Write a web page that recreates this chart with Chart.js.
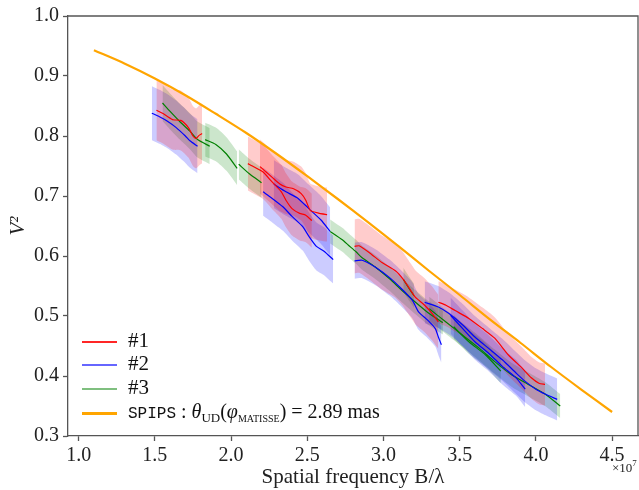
<!DOCTYPE html>
<html>
<head>
<meta charset="utf-8">
<script src="https://cdn.jsdelivr.net/npm/chart.js@4.4.0/dist/chart.umd.min.js"></script>
<style>
  html, body { margin: 0; padding: 0; background: #fff; }
  #wrap { position: relative; width: 639px; height: 490px; }
  .row { position: absolute; left: 82px; height: 24px; line-height: 24px; white-space: nowrap;
         font-family: "Liberation Serif", "DejaVu Serif", serif; font-size: 21px; color: #111; }
  .row .ln { display: inline-block; width: 35px; vertical-align: middle; margin-right: 11px; }
  .row .tt { font-family: "Liberation Mono", "DejaVu Sans Mono", monospace; font-size: 16px; }
  .row sub { font-size: 13px; vertical-align: -4px; }
  .row sub.s { font-size: 10px; }
  #expo { position: absolute; left: 612px; top: 458px; font-family: "Liberation Serif", serif;
          font-size: 13px; color: #222; }
  #expo sup { font-size: 9px; vertical-align: 6px; }
</style>
</head>
<body>
<div id="wrap">
  <canvas id="chart"></canvas>
  <div class="row" style="top:328px"><span class="ln" style="height:1.5px;background:rgba(255,0,0,0.85)"></span>#1</div>
  <div class="row" style="top:351px"><span class="ln" style="height:2px;background:rgba(0,0,255,0.6)"></span>#2</div>
  <div class="row" style="top:375px"><span class="ln" style="height:2px;background:rgba(0,128,0,0.5)"></span>#3</div>
  <div class="row" style="top:399px;font-size:20px"><span class="ln" style="height:2.5px;background:#ffa500"></span><span class="tt">SPIPS</span> : <i>θ</i><sub>UD</sub>(<i>φ</i><sub class="s">MATISSE</sub>) = 2.89 mas</div>
  <div id="expo">×10<sup>7</sup></div>
</div>
<script>
// x in units of 1e7 (spatial frequency), y = V^2

const xTicks = [1.0, 1.5, 2.0, 2.5, 3.0, 3.5, 4.0, 4.5];
const yTicks = [0.3, 0.4, 0.5, 0.6, 0.7, 0.8, 0.9, 1.0];

// #1 (red) segments
const redX = [
  [1.51, 1.55, 1.58, 1.62, 1.67, 1.72, 1.75, 1.77, 1.79, 1.81],
  [2.11, 2.14, 2.21, 2.26, 2.29, 2.33, 2.36, 2.40, 2.45, 2.49, 2.53],
  [2.19, 2.27, 2.32, 2.36, 2.41, 2.46, 2.49, 2.52, 2.58, 2.63],
  [2.81, 2.84, 2.91, 2.99, 3.08, 3.13, 3.18, 3.21, 3.27, 3.32, 3.36],
  [3.36, 3.41, 3.47, 3.56, 3.65, 3.73, 3.82, 3.91, 3.97, 4.02, 4.06]
];
const redY = [
  [0.843, 0.838, 0.833, 0.827, 0.826, 0.814, 0.800, 0.796, 0.801, 0.804],
  [0.754, 0.750, 0.740, 0.726, 0.718, 0.707, 0.693, 0.679, 0.671, 0.668, 0.659],
  [0.749, 0.731, 0.720, 0.715, 0.712, 0.704, 0.693, 0.676, 0.671, 0.669],
  [0.616, 0.617, 0.605, 0.589, 0.575, 0.561, 0.542, 0.531, 0.518, 0.504, 0.490],
  [0.523, 0.518, 0.509, 0.496, 0.479, 0.463, 0.435, 0.413, 0.397, 0.388, 0.386]
];
const redErr = [0.05, 0.045, 0.045, 0.045, 0.035];

// #2 (blue) segments
const blueX = [
  [1.48, 1.53, 1.58, 1.64, 1.70, 1.73, 1.78],
  [2.21, 2.27, 2.34, 2.40, 2.47, 2.51, 2.56, 2.61, 2.67],
  [2.28, 2.36, 2.44, 2.51, 2.59, 2.65],
  [2.81, 2.86, 2.95, 3.04, 3.12, 3.19, 3.23, 3.29, 3.34, 3.36, 3.38],
  [3.27, 3.36, 3.43, 3.52, 3.60, 3.69, 3.78, 3.87, 3.93, 4.00, 4.06, 4.14],
  [3.44, 3.52, 3.60, 3.69, 3.78, 3.87, 3.93]
];
const blueY = [
  [0.838, 0.832, 0.825, 0.814, 0.800, 0.792, 0.783],
  [0.707, 0.696, 0.682, 0.666, 0.649, 0.633, 0.616, 0.608, 0.594],
  [0.720, 0.707, 0.696, 0.679, 0.660, 0.641],
  [0.592, 0.593, 0.581, 0.564, 0.545, 0.526, 0.507, 0.493, 0.479, 0.465, 0.452],
  [0.523, 0.515, 0.504, 0.485, 0.465, 0.446, 0.427, 0.405, 0.391, 0.378, 0.370, 0.361],
  [0.501, 0.479, 0.457, 0.438, 0.416, 0.397, 0.378]
];
const blueErr = [0.045, 0.04, 0.04, 0.03, 0.035, 0.03];

// #3 (green) segments
const greenX = [
  [1.55, 1.60, 1.66, 1.73, 1.78, 1.86],
  [1.83, 1.90, 1.97, 2.04],
  [2.05, 2.12, 2.20],
  [2.65, 2.73, 2.77, 2.82, 2.86, 2.95, 3.04, 3.12, 3.21, 3.30, 3.39],
  [3.13, 3.17, 3.20],
  [3.30, 3.41, 3.52, 3.63, 3.73, 3.84, 3.95, 4.06, 4.16],
  [3.46, 3.56, 3.67, 3.77]
];
const greenY = [
  [0.855, 0.841, 0.825, 0.808, 0.794, 0.783],
  [0.794, 0.786, 0.770, 0.746],
  [0.753, 0.737, 0.722],
  [0.641, 0.627, 0.618, 0.607, 0.597, 0.581, 0.562, 0.543, 0.523, 0.504, 0.489],
  [0.561, 0.545, 0.534],
  [0.512, 0.490, 0.468, 0.446, 0.424, 0.402, 0.386, 0.370, 0.350],
  [0.482, 0.457, 0.435, 0.408]
];
const greenErr = [0.03, 0.028, 0.025, 0.02, 0.02, 0.02, 0.02];

// SPIPS uniform disk model
const spipsX = [1.1, 1.3, 1.5, 1.7, 1.9, 2.1, 2.3, 2.5, 2.7, 2.9, 3.1, 3.3, 3.5, 3.7, 3.9, 4.1, 4.3, 4.5];
const spipsY = [0.943, 0.921, 0.896, 0.868, 0.837, 0.805, 0.770, 0.733, 0.695, 0.656, 0.616, 0.575, 0.535, 0.494, 0.455, 0.415, 0.377, 0.340];

const datasets = [];

function addSeries(xs, ys, errs, lineColor, bandColor) {
  xs.forEach((seg, i) => {
    const mid = seg.map((x, j) => ({ x: x, y: ys[i][j] }));
    datasets.push({
      data: mid.map(p => ({ x: p.x, y: p.y + errs[i] })),
      borderColor: 'transparent', borderWidth: 0, pointRadius: 0, fill: false, tension: 0.2, order: 5
    });
    datasets.push({
      data: mid.map(p => ({ x: p.x, y: p.y - errs[i] })),
      borderColor: 'transparent', borderWidth: 0, pointRadius: 0, fill: '-1',
      backgroundColor: bandColor, tension: 0.2, order: 5
    });
    datasets.push({
      data: mid, borderColor: lineColor, borderWidth: 1.2, pointRadius: 0, fill: false, tension: 0.2, order: 1
    });
  });
}

addSeries(redX, redY, redErr, '#ff0000', 'rgba(255, 0, 0, 0.2)');
addSeries(blueX, blueY, blueErr, '#0000ff', 'rgba(0, 0, 255, 0.2)');
addSeries(greenX, greenY, greenErr, '#008000', 'rgba(0, 128, 0, 0.2)');

datasets.push({
  data: spipsX.map((x, i) => ({ x: x, y: spipsY[i] })),
  borderColor: '#ffa500', borderWidth: 2.2, pointRadius: 0, fill: false, tension: 0.3, order: 0
});

// top and right spines
const framePlugin = {
  id: 'frame',
  afterDraw(chart) {
    const { ctx, chartArea: a } = chart;
    ctx.save();
    ctx.strokeStyle = '#555';
    ctx.lineWidth = 1.3;
    ctx.beginPath();
    ctx.moveTo(a.left, a.top);
    ctx.lineTo(a.right, a.top);
    ctx.lineTo(a.right, a.bottom);
    ctx.stroke();
    ctx.restore();
  }
};

const tickFont = { family: 'Liberation Serif', size: 20 };

new Chart(document.getElementById('chart').getContext('2d'), {
  type: 'line',
  data: { datasets: datasets },
  options: {
    responsive: true,
    maintainAspectRatio: false,
    animation: false,
    layout: { padding: { top: 10, right: 1, left: 0, bottom: 0 } },
    plugins: {
      legend: { display: false },
      tooltip: { enabled: false }
    },
    scales: {
      x: {
        type: 'linear',
        min: 0.93,
        max: 4.67,
        afterBuildTicks: s => { s.ticks = xTicks.map(v => ({ value: v })); },
        afterFit: s => { s.height = 54; },
        ticks: { font: tickFont, color: '#222', padding: 3, maxRotation: 0, callback: v => v.toFixed(1) },
        grid: { drawOnChartArea: false, drawTicks: true, tickLength: 5, tickWidth: 1.3, tickColor: '#555' },
        border: { color: '#555', width: 1.3 },
        title: { display: true, text: 'Spatial frequency B/λ', font: { family: 'Liberation Serif', size: 21 }, color: '#222', padding: { top: 0, bottom: 0 } }
      },
      y: {
        type: 'linear',
        min: 0.3,
        max: 1.0,
        afterBuildTicks: s => { s.ticks = yTicks.map(v => ({ value: v })); },
        afterFit: s => { s.width = 68; },
        ticks: { font: tickFont, color: '#222', padding: 4, callback: v => v.toFixed(1) },
        grid: { drawOnChartArea: false, drawTicks: true, tickLength: 5, tickWidth: 1.3, tickColor: '#555' },
        border: { color: '#555', width: 1.3 },
        title: { display: true, text: 'V²', font: { family: 'Liberation Serif', size: 21, style: 'italic' }, color: '#222', padding: { top: 6, bottom: 4 } }
      }
    }
  },
  plugins: [framePlugin]
});
</script>
</body>
</html>
